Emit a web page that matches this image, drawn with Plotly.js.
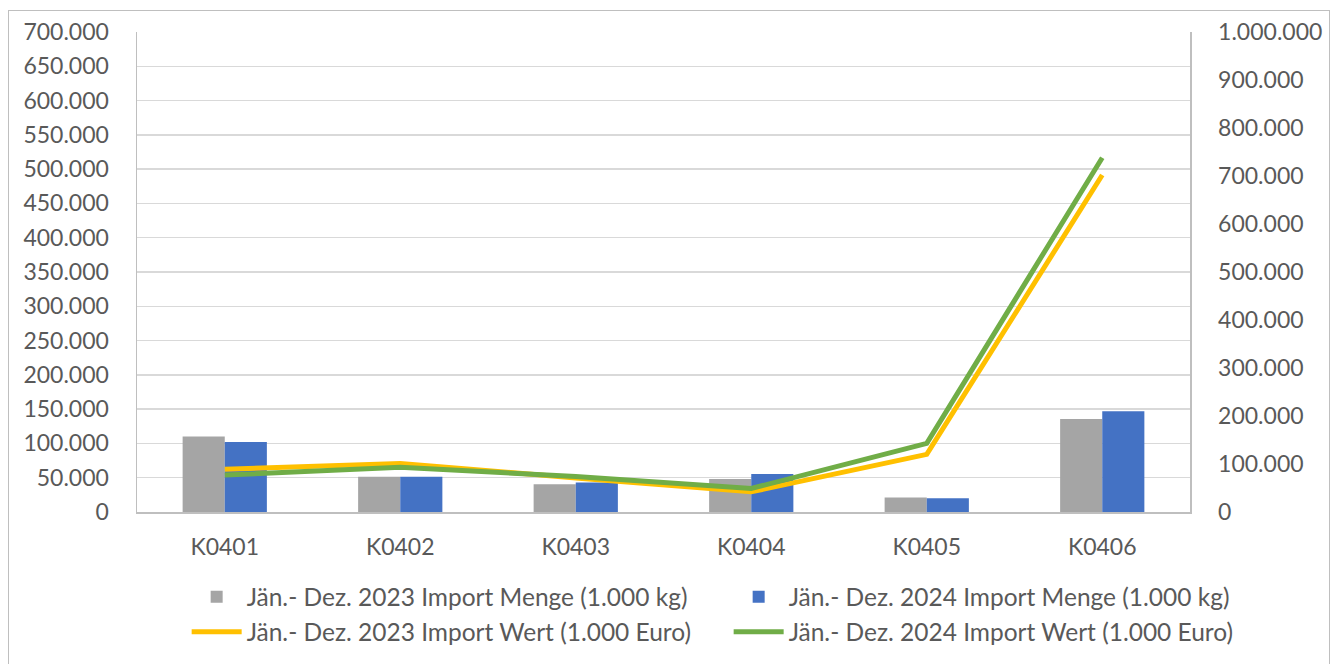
<!DOCTYPE html>
<html><head><meta charset="utf-8">
<script src="https://cdn.plot.ly/plotly-3.0.1.min.js"></script>
<style>body{margin:0;background:#fff}#frame{position:absolute;left:8px;top:10px;width:1322px;height:660px;border:1px solid #bfbfbf;box-sizing:border-box;pointer-events:none}</style>
</head><body>
<div id="chart" style="width:1332px;height:664px;"></div>
<div id="frame"></div>
<script>
const categories = ["K0401","K0402","K0403","K0404","K0405","K0406"];
const menge2023 = [110000, 51500, 40500, 48000, 21000, 135500];
const menge2024 = [102000, 51500, 43000, 55500, 20000, 147000];
const wert2023 = [89000, 101000, 71000, 42000, 120000, 702000];
const wert2024 = [77000, 93000, 74000, 49000, 143000, 738000];
const names = [
  "Jän.- Dez. 2023 Import Menge (1.000 kg)",
  "Jän.- Dez. 2024 Import Menge (1.000 kg)",
  "Jän.- Dez. 2023 Import Wert (1.000 Euro)",
  "Jän.- Dez. 2024 Import Wert (1.000 Euro)"
];
const font = "Lato, 'Open Sans', sans-serif";
const traces = [
  {type:"bar", x:categories, y:menge2023, name:names[0], marker:{color:"#A5A5A5"}},
  {type:"bar", x:categories, y:menge2024, name:names[1], marker:{color:"#4472C4"}},
  {type:"scatter", mode:"lines", x:categories, y:wert2023, name:names[2], yaxis:"y2", line:{color:"#FFC000", width:5}},
  {type:"scatter", mode:"lines", x:categories, y:wert2024, name:names[3], yaxis:"y2", line:{color:"#70AD47", width:5}}
];
const layout = {
  width:1332, height:664,
  margin:{l:137, r:142, t:32, b:152, autoexpand:false},
  separators:",.",
  paper_bgcolor:"#fff", plot_bgcolor:"#fff",
  font:{family:font, size:23, color:"#595959"},
  bargap:0.52, bargroupgap:0, barmode:"group",
  showlegend:true,
  xaxis:{showline:true, linecolor:"#bfbfbf", linewidth:1.5, ticks:"", ticklabelstandoff:14, automargin:false, tickfont:{size:23, color:"#595959"}},
  yaxis:{range:[0,700000], dtick:50000, tickformat:",d", gridcolor:"#d9d9d9", gridwidth:1.5, showline:true, linecolor:"#bfbfbf", linewidth:1.5, zeroline:false, ticks:"", ticklabelstandoff:22, automargin:false, tickfont:{size:23,color:"#595959"}},
  yaxis2:{range:[0,1000000], dtick:100000, tickformat:",d", overlaying:"y", side:"right", showgrid:false, showline:true, linecolor:"#bfbfbf", linewidth:1.5, zeroline:false, ticks:"", ticklabelstandoff:22, automargin:false, tickfont:{size:23,color:"#595959"}},
  legend:{orientation:"h", x:1.0766, xanchor:"right", y:-0.13, yanchor:"top", entrywidth:477, font:{size:24.5,color:"#595959"}, itemwidth:50, tracegroupgap:0}
};
Plotly.newPlot("chart", traces, layout, {displayModeBar:false, staticPlot:true});
</script>
</body></html>
